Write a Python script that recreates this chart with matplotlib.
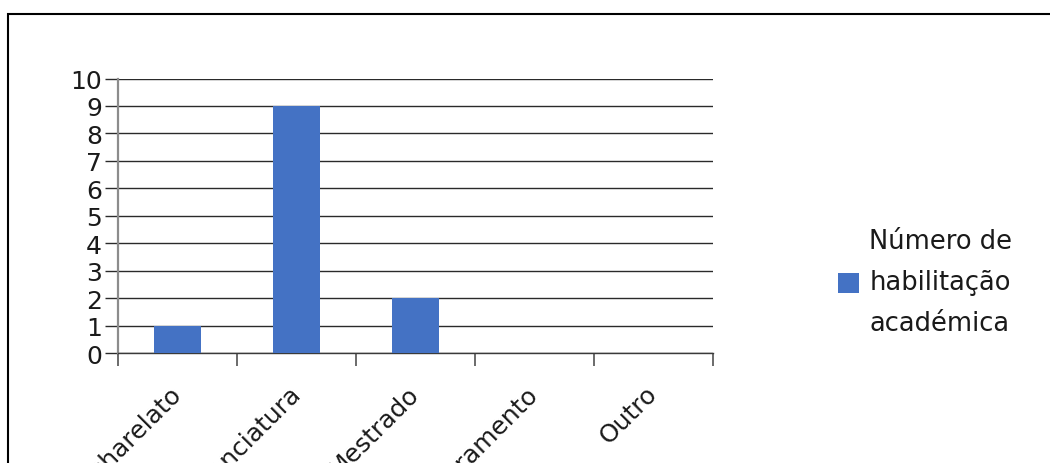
import matplotlib
matplotlib.use("Agg")
import matplotlib.pyplot as plt
from matplotlib.patches import Rectangle, Patch
from matplotlib.ticker import FixedLocator

categories = ["Bacharelato", "Licenciatura", "Mestrado", "Doutoramento", "Outro"]
counts = [1, 9, 2, 0, 0]
y_ticks = list(range(0, 11))
series_label = "Número de\nhabilitação\nacadémica"

W, H = 1050, 464
plt.rcParams["font.family"] = ["DejaVu Sans"]
fig = plt.figure(figsize=(W / 100, H / 100), dpi=100)
fig.patch.set_facecolor("white")

# outer chart frame (runs off the right and bottom edges)
fig.add_artist(Rectangle((8 / W, -0.2), 2.0, (H - 15) / H + 0.2,
                         transform=fig.transFigure, fill=False,
                         edgecolor="black", linewidth=1.5))

ax = fig.add_axes([118 / W, 1 - 354 / H, (713 - 118) / W, (354 - 79.5) / H])

centers = [i + 0.5 for i in range(len(categories))]
ax.bar(centers, counts, width=0.4, color="#4472C4", zorder=3)

ax.set_xlim(0, len(categories))
ax.set_ylim(0, 10)
ax.set_yticks(y_ticks)
ax.yaxis.grid(True, color="#2a2a2a", linewidth=1.0, zorder=1)
ax.set_axisbelow(True)

for side in ("top", "right"):
    ax.spines[side].set_visible(False)
ax.spines["left"].set_color("#8c8c8c")
ax.spines["left"].set_linewidth(1.6)
ax.spines["bottom"].set_color("#3a3a3a")
ax.spines["bottom"].set_linewidth(1.0)

ax.tick_params(axis="y", length=9.5, width=1.0, color="#2a2a2a",
               labelsize=18, labelcolor="#1a1a1a", pad=2)

# category boundaries carry the tick marks, centers carry the labels
ax.xaxis.set_minor_locator(FixedLocator(list(range(len(categories) + 1))))
ax.tick_params(axis="x", which="minor", length=9.5, width=1.4, color="#6a6a6a")
ax.set_xticks(centers)
ax.set_xticklabels(categories, rotation=45, ha="right", va="center",
                   rotation_mode="anchor", fontsize=18, color="#1a1a1a")
ax.tick_params(axis="x", which="major", length=0, pad=26)

leg = ax.legend(handles=[Patch(facecolor="#4472C4", label=series_label)],
                loc="center left", bbox_to_anchor=(838 / W, 1 - 283 / H),
                bbox_transform=fig.transFigure, frameon=False, fontsize=18.5,
                handlelength=0.82, handleheight=0.82, handletextpad=0.4,
                borderpad=0, borderaxespad=0)
for t in leg.get_texts():
    t.set_linespacing(1.75)
    t.set_color("#1a1a1a")

fig.savefig("out.png", dpi=100)
